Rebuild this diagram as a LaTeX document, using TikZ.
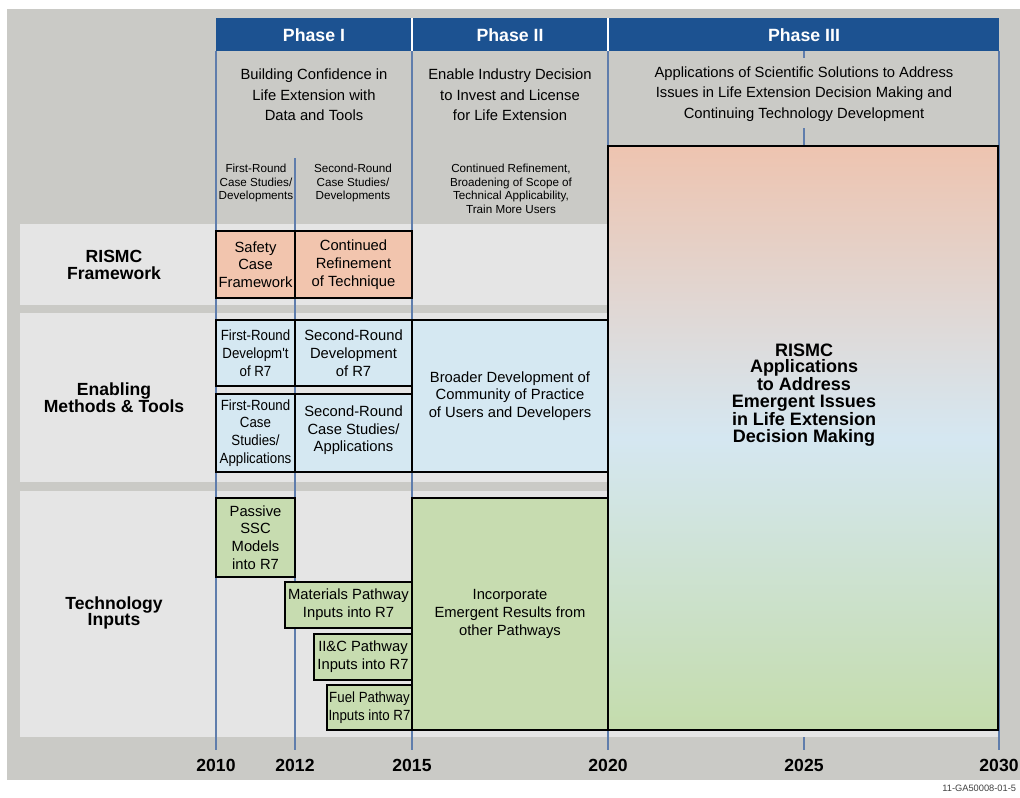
\documentclass[tikz,border=0pt]{standalone}
\usepackage{fontspec}
\setmainfont{Liberation Sans}
\newfontfamily\narrowsans[FakeStretch=0.9]{Liberation Sans}
\usepackage{tikz}
\usepackage{xcolor}
\usetikzlibrary{positioning, fit}

\definecolor{bggray}{RGB}{202,202,198}
\definecolor{bandgray}{RGB}{229,229,229}
\definecolor{phaseblue}{RGB}{28,82,145}
\definecolor{gridblue}{RGB}{95,125,172}
\definecolor{salmon}{RGB}{242,197,174}
\definecolor{skyblue}{RGB}{213,232,242}
\definecolor{sage}{RGB}{199,220,176}
\definecolor{toppeach}{RGB}{238,196,176}
\definecolor{midblue}{RGB}{213,231,241}
\definecolor{lowgreen}{RGB}{196,220,172}

\tikzset{
  cell/.style={draw=black, line width=1.4pt, inner sep=0pt},
  celltext/.style={align=center, inner sep=0pt, font=\fontsize{10.5}{12.6}\selectfont},
  narrowtext/.style={celltext, font=\narrowsans\fontsize{10.5}{12.6}\selectfont},
  yearline/.style={draw=gridblue, line width=0.8pt},
  rowlabel/.style={align=center, font=\bfseries\fontsize{12.5}{12}\selectfont},
  phaselabel/.style={text=white, font=\bfseries\fontsize{12.6}{14}\selectfont},
  goal/.style={align=center, font=\fontsize{10.5}{14.6}\selectfont},
  note/.style={align=center, font=\fontsize{8.3}{9.6}\selectfont},
  yearlabel/.style={font=\bfseries\fontsize{12.5}{14}\selectfont}
}

\begin{document}
\begin{tikzpicture}[x=0.025cm, y=-0.025cm]
  \useasboundingbox (0,0) rectangle (1020,797);
  % background and row bands
  \fill[bggray] (7,9) rectangle (1020,780);
  \fill[bandgray] (20,224) rectangle (1000,305);
  \fill[bandgray] (20,313) rectangle (1000,482);
  \fill[bandgray] (20,491) rectangle (1000,737);

  % year grid
  \draw[yearline] (216,51) -- (216,750);
  \draw[yearline] (295,158) -- (295,750);
  \draw[yearline] (412,51) -- (412,750);
  \draw[yearline] (608,51) -- (608,750);
  \draw[yearline] (804,51) -- (804,58);
  \draw[yearline] (804,128) -- (804,146);
  \draw[yearline] (804,737) -- (804,750);
  \draw[yearline] (999,51) -- (999,750);

  % phase header
  \node[fill=phaseblue, inner sep=0pt, fit={(216,18) (999,51)}] (bar) {};
  \draw[white, line width=0.8pt] (412,18) -- (412,51);
  \draw[white, line width=0.8pt] (608,18) -- (608,51);
  \node[phaselabel] (p1) at (314,35) {Phase I};
  \node[phaselabel] (p2) at (510,35) {Phase II};
  \node[phaselabel] (p3) at (804,35) {Phase III};

  \node[goal] (g1) at (314,95) {Building Confidence in\\Life Extension with\\Data and Tools};
  \node[goal] (g2) at (510,95) {Enable Industry Decision\\to Invest and License\\for Life Extension};
  \node[goal] (g3) at (804,94) {Applications of Scientific Solutions to Address\\Issues in Life Extension Decision Making and\\Continuing Technology Development};

  \node[note] (n1) at (256,183) {First-Round\\Case Studies/\\Developments};
  \node[note] (n2) at (353,183) {Second-Round\\Case Studies/\\Developments};
  \node[note] (n3) at (511,189) {Continued Refinement,\\Broadening of Scope of\\Technical Applicability,\\Train More Users};

  % row labels
  \node[rowlabel] (rismc) at (114,265) {RISMC\\Framework};
  \node[rowlabel] (methods) at (114,398) {Enabling\\Methods \& Tools};
  \node[rowlabel] (tech) at (114,613) {Technology\\Inputs};

  % RISMC framework
  \node[cell, fill=salmon, fit={(216,231) (295,298)}] (safety) {};
  \node[cell, fill=salmon, fit={(295,231) (412,298)}] (refine) {};
  \node[celltext] at (safety) {Safety\\Case\\Framework};
  \node[celltext] at (refine) {Continued\\Refinement\\of Technique};

  % enabling methods and tools
  \node[cell, fill=skyblue, fit={(216,320) (295,386)}] (dev1) {};
  \node[cell, fill=skyblue, fit={(295,320) (412,386)}] (dev2) {};
  \node[cell, fill=skyblue, fit={(216,394) (295,472)}] (case1) {};
  \node[cell, fill=skyblue, fit={(295,394) (412,472)}] (case2) {};
  \node[cell, fill=skyblue, fit={(412,320) (608,472)}] (broad) {};
  \node[narrowtext] at (dev1) {First-Round\\Developm't\\of R7};
  \node[celltext] at (dev2) {Second-Round\\Development\\of R7};
  \node[narrowtext] at (case1) {First-Round\\Case\\Studies/\\Applications};
  \node[celltext] at ([yshift=2pt]case2.center) {Second-Round\\Case Studies/\\Applications};
  \node[celltext] at (broad) {Broader Development of\\Community of Practice\\of Users and Developers};

  % technology inputs
  \node[cell, fill=sage, fit={(216,498) (295,577)}] (passive) {};
  \node[cell, fill=sage, fit={(285,582) (412,628)}] (materials) {};
  \node[cell, fill=sage, fit={(314,634) (412,680)}] (iic) {};
  \node[cell, fill=sage, fit={(327,685) (412,730)}] (fuel) {};
  \node[cell, fill=sage, fit={(412,498) (608,730)}] (emergent) {};
  \node[celltext] at (passive) {Passive\\SSC\\Models\\into R7};
  \node[celltext] at (materials) {Materials Pathway\\Inputs into R7};
  \node[celltext] at (iic) {II\&C Pathway\\Inputs into R7};
  \node[narrowtext] at (fuel) {Fuel Pathway\\Inputs into R7};
  \node[celltext] at (emergent) {Incorporate\\Emergent Results from\\other Pathways};

  % phase III
  \node[cell, top color=toppeach, bottom color=lowgreen, middle color=midblue, fit={(608,146) (998,730)}] (apps) {};
  \node[align=center, font=\bfseries\fontsize{12.8}{11.9}\selectfont] (appstext) at (804,395)
    {RISMC\\Applications\\to Address\\Emergent Issues\\in Life Extension\\Decision Making};

  % years
  \foreach \x/\yr in {216/2010, 295/2012, 412/2015, 608/2020, 804/2025, 999/2030}
    \node[yearlabel] (y\yr) at (\x,765) {\yr};
  \node[anchor=east, text=black!75, font=\fontsize{6.6}{8}\selectfont] (code) at (1021,788) {11-GA50008-01-5};
\end{tikzpicture}
\end{document}
